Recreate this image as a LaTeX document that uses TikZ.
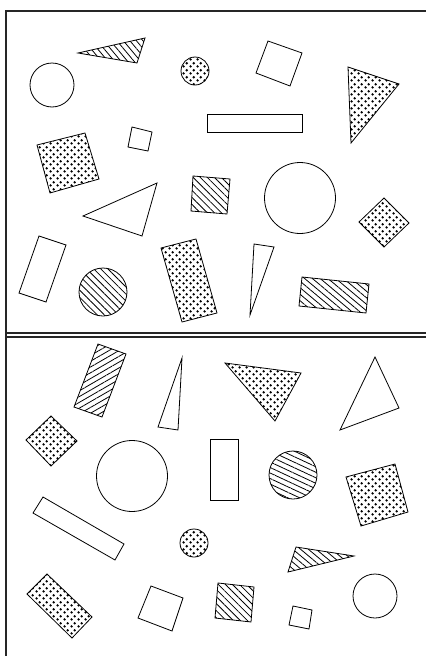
\documentclass[tikz,border=0pt]{standalone}
\usetikzlibrary{patterns,patterns.meta}
\pgfdeclarepatternformonly{sdots}{\pgfqpoint{0pt}{0pt}}{\pgfqpoint{7pt}{7pt}}{\pgfqpoint{7pt}{7pt}}{%
  \pgfpathcircle{\pgfqpoint{1.75pt}{1.75pt}}{1.45pt}%
  \pgfpathcircle{\pgfqpoint{5.25pt}{5.25pt}}{1.45pt}%
  \pgfusepath{fill}}
\tikzset{
  shp/.style={draw=black,line width=0.8pt,line join=miter},
  dotted fill/.style={shp,pattern=sdots},
  hatch/.style={shp,pattern={Lines[angle=#1,distance=5pt,line width=0.8pt]}},
  frameline/.style={draw=black!85,line width=1.1pt}
}
\begin{document}
\begin{tikzpicture}[x=1pt,y=-1pt]
\useasboundingbox (0,0) rectangle (426,656);
% frames
\draw[frameline] (6,656) -- (6,11) -- (426,11);
\draw[frameline] (6,333) -- (426,333);
\draw[frameline] (6,337) -- (426,337);
% ===== top panel =====
\draw[shp] (52,85) circle[radius=22pt];
\draw[hatch=-50] (78,53) -- (145,38) -- (137,63) -- cycle;
\draw[dotted fill] (195,71) circle[radius=14pt];
\draw[shp] (132,127) -- (152,132) -- (148,151) -- (128,147) -- cycle;
\draw[dotted fill] (37,145) -- (85,133) -- (99,179) -- (50,193) -- cycle;
\draw[shp] (268,41) -- (302,53) -- (290,86) -- (256,73) -- cycle;
\draw[dotted fill] (348,67) -- (399,84) -- (351,143) -- cycle;
\draw[shp] (207,114) rectangle (302,132);
\draw[shp] (300,198) circle[radius=35.5pt];
\draw[hatch=-45] (193,176) -- (230,179) -- (227,214) -- (191,211) -- cycle;
\draw[shp] (83,216) -- (157,183) -- (142,236) -- cycle;
\draw[dotted fill] (384,198) -- (409,223) -- (384,247) -- (359,222) -- cycle;
\draw[shp] (39,236) -- (66,245) -- (46,302) -- (19,293) -- cycle;
\draw[hatch=-45] (103,292) circle[radius=24pt];
\draw[dotted fill] (161,248) -- (196,239) -- (217,313) -- (182,322) -- cycle;
\draw[shp] (254,244) -- (274,247) -- (250,315) -- cycle;
\draw[hatch=-40] (302,277) -- (369,284) -- (366,313) -- (299,306) -- cycle;
% ===== bottom panel =====
\draw[hatch=30] (98,344) -- (126,354) -- (102,417) -- (74,407) -- cycle;
\draw[shp] (182,358) -- (178,430) -- (158,427) -- cycle;
\draw[dotted fill] (51,416) -- (77,441) -- (51,466) -- (26,440) -- cycle;
\draw[shp] (132,476) circle[radius=35.5pt];
\draw[dotted fill] (225,363) -- (301,373) -- (275,421) -- cycle;
\draw[shp] (375,357) -- (399,408) -- (340,430) -- cycle;
\draw[shp] (210,439) rectangle (238,500);
\draw[hatch=-25] (293,475) circle[radius=24pt];
\draw[dotted fill] (346,477) -- (395,464) -- (408,512) -- (361,526) -- cycle;
\draw[shp] (43,497) -- (124,544) -- (115,560) -- (33,513) -- cycle;
\draw[dotted fill] (194,543) circle[radius=14pt];
\draw[hatch=-40] (296,547) -- (354,556) -- (288,572) -- cycle;
\draw[shp] (375,596) circle[radius=22pt];
\draw[dotted fill] (47,574) -- (92,617) -- (72,638) -- (27,594) -- cycle;
\draw[shp] (151,586) -- (183,598) -- (172,631) -- (138,618) -- cycle;
\draw[hatch=-45] (218,583) -- (254,587) -- (251,622) -- (215,618) -- cycle;
\draw[shp] (293,606) -- (312,610) -- (309,629) -- (289,625) -- cycle;
\end{tikzpicture}
\end{document}
